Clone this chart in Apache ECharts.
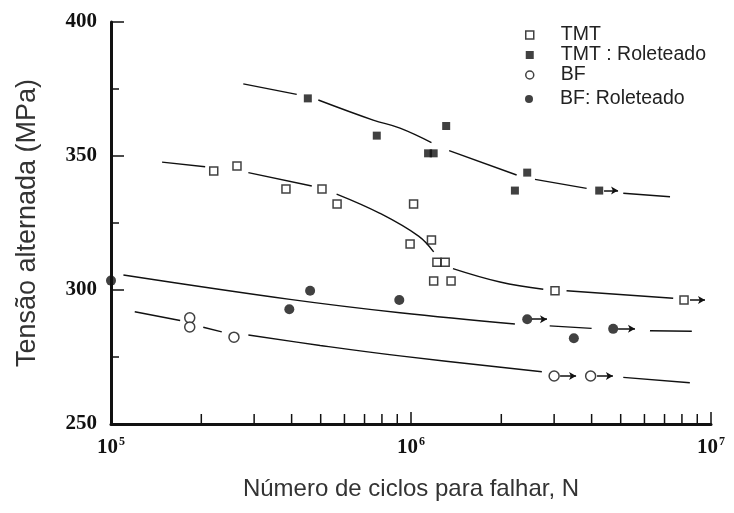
<!DOCTYPE html>
<html>
<head>
<meta charset="utf-8">
<script src="https://cdn.jsdelivr.net/npm/echarts@6/dist/echarts.min.js"></script>
<style>
  html, body { margin: 0; padding: 0; background: #fff; }
  #chart { width: 734px; height: 513px; }
</style>
</head>
<body>
<div id="chart"></div>
<script>
// S-N data: [cycles to failure, alternating stress (MPa)]
const tmtPoints = [
  [2.20e5, 344.4], [2.63e5, 346.3], [3.83e5, 337.7], [5.05e5, 337.7],
  [5.67e5, 332.1], [1.02e6, 332.1], [9.93e5, 317.2], [1.17e6, 318.7],
  [1.22e6, 310.4], [1.30e6, 310.4], [1.19e6, 303.4], [1.36e6, 303.4],
  [3.02e6, 299.7], [8.13e6, 296.3]
];
const tmtRolPoints = [
  [4.53e5, 371.5], [7.69e5, 357.6], [1.14e6, 351.0], [1.19e6, 351.0],
  [1.31e6, 361.2], [2.44e6, 343.8], [2.22e6, 337.1], [4.24e6, 337.1]
];
const bfPoints = [
  [1.83e5, 289.6], [1.83e5, 286.2], [2.57e5, 282.4], [3.00e6, 267.9], [3.97e6, 267.9]
];
const bfRolPoints = [
  [1.00e5, 303.5], [3.93e5, 292.8], [4.61e5, 299.7], [9.14e5, 296.3],
  [2.44e6, 289.1], [3.49e6, 282.0], [4.72e6, 285.5]
];

// Fitted curves, drawn as broken segments around the markers
const tmtCurve = [
  [[1.48e5, 347.7], [2.06e5, 346.0]],
  [[2.87e5, 343.8], [4.67e5, 338.8]],
  [[5.65e5, 335.8], [7.88e5, 328.6], [1.06e6, 320.1], [1.19e6, 314.2]],
  [[1.38e6, 308.0], [1.98e6, 303.0], [2.76e6, 300.3]],
  [[3.30e6, 299.7], [7.48e6, 296.9]]
];
const tmtRolCurve = [
  [[2.76e5, 376.9], [4.16e5, 373.0]],
  [[4.91e5, 370.9], [7.48e5, 363.4], [9.19e5, 360.4], [1.17e6, 355.0]],
  [[1.34e6, 352.0], [2.25e6, 342.9]],
  [[2.59e6, 341.3], [3.85e6, 337.9]],
  [[5.10e6, 336.1], [7.30e6, 334.8]]
];
const bfCurve = [
  [[1.20e5, 291.9], [1.70e5, 288.6]],
  [[2.03e5, 286.1], [2.34e5, 284.4]],
  [[2.87e5, 283.2], [4.98e5, 279.3], [9.19e5, 275.4], [2.73e6, 269.5]],
  [[5.10e6, 267.4], [8.50e6, 265.4]]
];
const bfRolCurve = [
  [[1.10e5, 305.6], [3.95e5, 296.5], [9.19e5, 291.5], [2.22e6, 287.3]],
  [[2.90e6, 286.6], [4.00e6, 285.7]],
  [[6.26e6, 284.8], [8.63e6, 284.6]]
];

// Run-out arrows: [start cycles, end cycles, stress]
const tmtRunouts = [[8.51e6, 9.55e6, 296.3]];
const tmtRolRunouts = [[4.40e6, 4.90e6, 337.1]];
const bfRunouts = [[3.14e6, 3.55e6, 267.9], [4.17e6, 4.71e6, 267.9]];
const bfRolRunouts = [[2.53e6, 2.84e6, 289.1], [4.90e6, 5.58e6, 285.5]];

// Axis ranges and tick values
const xRange = [1e5, 1e7];
const yRange = [250, 400];
const yInterval = 50;
const xMinorTicks = [2e5, 3e5, 4e5, 5e5, 6e5, 7e5, 8e5, 9e5, 2e6, 3e6, 4e6, 5e6, 6e6, 7e6, 8e6, 9e6];

const seriesNames = ['TMT', 'TMT : Roleteado', 'BF', 'BF: Roleteado'];

const ink = '#111';
const serif = 'Liberation Serif';
const sans = 'Liberation Sans';

function arrowMarks(runouts) {
  return {
    silent: true,
    symbol: ['none', 'arrow'],
    symbolSize: [6, 7],
    lineStyle: { color: ink, width: 1.5, type: 'solid' },
    label: { show: false },
    emphasis: { disabled: true },
    data: runouts.map(r => [{ coord: [r[0], r[2]] }, { coord: [r[1], r[2]] }])
  };
}

function curveSeries(segments) {
  return segments.map(seg => ({
    type: 'line',
    data: seg,
    smooth: seg.length > 2 ? 0.4 : false,
    symbol: 'none',
    silent: true,
    lineStyle: { color: ink, width: 1.4 },
    z: 1
  }));
}

const openStyle = { color: '#fff', borderColor: ink, borderWidth: 1.5 };
const fillStyle = { color: ink };

const legendText = { fontFamily: sans, fontSize: 19.5, lineHeight: 20, color: '#222', padding: [0, 0, 0, 22] };
const legendBase = {
  orient: 'vertical',
  left: 520,
  itemWidth: 8,
  itemHeight: 8,
  itemGap: 0,
  selectedMode: false,
  textStyle: legendText
};

const chart = echarts.init(document.getElementById('chart'));
chart.setOption({
  animation: false,
  backgroundColor: '#fff',
  grid: { left: 111, right: 23, top: 22, bottom: 89 },
  legend: [
    Object.assign({}, legendBase, {
      top: 20,
      data: [
        { name: seriesNames[0], icon: 'rect', itemStyle: { color: '#fff', borderColor: ink, borderWidth: 1.5 } },
        { name: seriesNames[1], icon: 'rect', itemStyle: { color: ink, borderWidth: 0 } },
        { name: seriesNames[2], icon: 'circle', itemStyle: { color: '#fff', borderColor: ink, borderWidth: 1.5 } }
      ]
    }),
    Object.assign({}, legendBase, {
      top: 84,
      data: [
        { name: seriesNames[3], icon: 'circle', itemStyle: { color: ink, borderWidth: 0 } }
      ]
    })
  ],
  xAxis: {
    type: 'log',
    logBase: 10,
    min: xRange[0],
    max: xRange[1],
    name: 'Número de ciclos para falhar, N',
    nameLocation: 'middle',
    nameGap: 53,
    nameTextStyle: { fontFamily: sans, fontSize: 24, color: '#333' },
    axisLine: { show: true, lineStyle: { color: ink, width: 3 } },
    axisTick: { show: true, inside: true, length: 12, lineStyle: { color: ink, width: 1.5 } },
    splitLine: { show: false },
    axisLabel: {
      margin: 12,
      formatter: v => '{b|10}{s|' + Math.round(Math.log10(v)) + '}',
      rich: {
        b: { fontFamily: serif, fontWeight: 'bold', fontSize: 21, color: ink },
        s: { fontFamily: serif, fontWeight: 'bold', fontSize: 12, color: ink, padding: [0, 0, 11, 1] }
      }
    }
  },
  yAxis: {
    type: 'value',
    min: yRange[0],
    max: yRange[1],
    interval: yInterval,
    name: 'Tensão alternada (MPa)',
    nameLocation: 'middle',
    nameGap: 70,
    nameRotate: 90,
    nameTextStyle: { fontFamily: sans, fontSize: 27, color: '#333' },
    axisLine: { show: true, lineStyle: { color: ink, width: 3 } },
    axisTick: { show: true, inside: true, length: 13, lineStyle: { color: ink, width: 1.5 } },
    minorTick: { show: true, splitNumber: 2, length: 8, lineStyle: { color: ink, width: 1.5 } },
    splitLine: { show: false },
    axisLabel: {
      margin: 14,
      fontFamily: serif,
      fontWeight: 'bold',
      fontSize: 21,
      color: ink
    }
  },
  series: [
    ...curveSeries(tmtCurve),
    ...curveSeries(tmtRolCurve),
    ...curveSeries(bfCurve),
    ...curveSeries(bfRolCurve),
    {
      // minor decade ticks on the log axis, pointing into the plot
      type: 'custom',
      silent: true,
      data: xMinorTicks.map(v => [v, yRange[0]]),
      renderItem: (params, api) => {
        const p = api.coord([api.value(0), api.value(1)]);
        return {
          type: 'line',
          shape: { x1: p[0], y1: p[1], x2: p[0], y2: p[1] - 10 },
          style: { stroke: ink, lineWidth: 1.5 }
        };
      },
      z: 3
    },
    {
      name: seriesNames[0], type: 'scatter', data: tmtPoints,
      symbol: 'rect', symbolSize: 8, itemStyle: openStyle, z: 4,
      markLine: arrowMarks(tmtRunouts)
    },
    {
      name: seriesNames[1], type: 'scatter', data: tmtRolPoints,
      symbol: 'rect', symbolSize: 8, itemStyle: fillStyle, z: 4,
      markLine: arrowMarks(tmtRolRunouts)
    },
    {
      name: seriesNames[2], type: 'scatter', data: bfPoints,
      symbol: 'circle', symbolSize: 10, itemStyle: openStyle, z: 4,
      markLine: arrowMarks(bfRunouts)
    },
    {
      name: seriesNames[3], type: 'scatter', data: bfRolPoints,
      symbol: 'circle', symbolSize: 10, itemStyle: fillStyle, z: 4,
      markLine: arrowMarks(bfRolRunouts)
    }
  ]
});
</script>
</body>
</html>
